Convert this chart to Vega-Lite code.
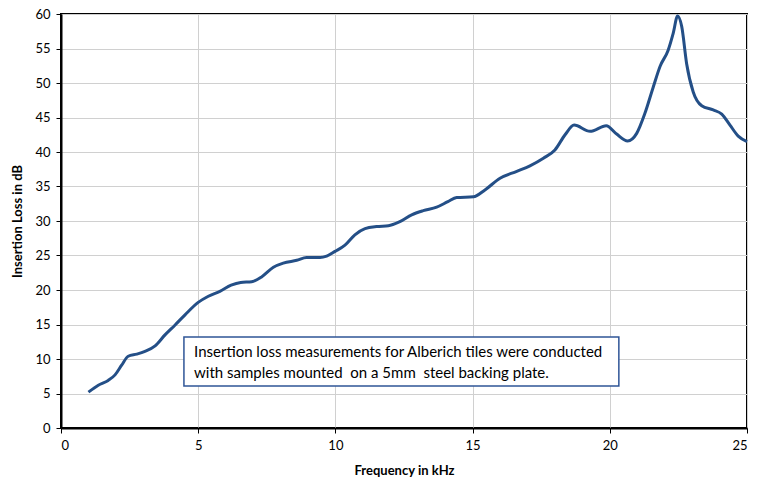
{
  "$schema": "https://vega.github.io/schema/vega-lite/v6.json",
  "width": 686,
  "height": 414,
  "autosize": {"type": "none"},
  "padding": {"left": 61, "top": 14, "right": 15, "bottom": 53},
  "background": "white",
  "config": {
    "view": {"stroke": "black", "strokeWidth": 2},
    "font": "Lato",
    "axis": {
      "gridColor": "#d0d0d0",
      "gridWidth": 1,
      "domainColor": "black",
      "domainWidth": 2,
      "tickColor": "black",
      "tickWidth": 1,
      "tickSize": 5,
      "labelOverlap": false,
      "labelFont": "Lato",
      "labelFontSize": 13,
      "labelColor": "#000000",
      "titleFont": "Lato",
      "titleFontSize": 13,
      "titleFontWeight": "bold",
      "titleColor": "#000000"
    }
  },
  "datasets": {
    "curve": [
      {"f": 1.0, "v": 5.2}, {"f": 1.36, "v": 6.2}, {"f": 1.72, "v": 6.9}, {"f": 1.97, "v": 7.7},
      {"f": 2.21, "v": 9.1}, {"f": 2.45, "v": 10.4}, {"f": 2.76, "v": 10.7}, {"f": 3.06, "v": 11.1},
      {"f": 3.43, "v": 11.9}, {"f": 3.79, "v": 13.5}, {"f": 4.15, "v": 14.9}, {"f": 4.52, "v": 16.4},
      {"f": 5.0, "v": 18.2}, {"f": 5.37, "v": 19.1}, {"f": 5.79, "v": 19.8}, {"f": 6.2, "v": 20.7},
      {"f": 6.55, "v": 21.1}, {"f": 6.95, "v": 21.2}, {"f": 7.31, "v": 21.9}, {"f": 7.74, "v": 23.3},
      {"f": 8.1, "v": 23.9}, {"f": 8.59, "v": 24.3}, {"f": 8.95, "v": 24.7}, {"f": 9.44, "v": 24.7},
      {"f": 9.68, "v": 24.9}, {"f": 9.99, "v": 25.6}, {"f": 10.35, "v": 26.5}, {"f": 10.71, "v": 28.0},
      {"f": 11.08, "v": 28.9}, {"f": 11.5, "v": 29.2}, {"f": 11.93, "v": 29.3}, {"f": 12.35, "v": 29.9},
      {"f": 12.78, "v": 30.9}, {"f": 13.2, "v": 31.5}, {"f": 13.69, "v": 32.0}, {"f": 14.1, "v": 32.8},
      {"f": 14.42, "v": 33.4}, {"f": 15.03, "v": 33.5}, {"f": 15.45, "v": 34.5}, {"f": 16.0, "v": 36.2},
      {"f": 16.61, "v": 37.2}, {"f": 17.09, "v": 38.0}, {"f": 17.58, "v": 39.1}, {"f": 18.0, "v": 40.3},
      {"f": 18.37, "v": 42.5}, {"f": 18.7, "v": 43.9}, {"f": 19.28, "v": 43.0}, {"f": 19.87, "v": 43.8},
      {"f": 20.25, "v": 42.6}, {"f": 20.65, "v": 41.6}, {"f": 20.98, "v": 42.7}, {"f": 21.28, "v": 45.6},
      {"f": 21.59, "v": 49.5}, {"f": 21.83, "v": 52.4}, {"f": 22.13, "v": 54.8}, {"f": 22.31, "v": 57.2},
      {"f": 22.47, "v": 59.7}, {"f": 22.62, "v": 58.2}, {"f": 22.8, "v": 52.8}, {"f": 23.04, "v": 48.7},
      {"f": 23.35, "v": 46.7}, {"f": 23.77, "v": 46.1}, {"f": 24.08, "v": 45.5}, {"f": 24.38, "v": 43.9},
      {"f": 24.68, "v": 42.3}, {"f": 25.0, "v": 41.5}
    ],
    "box": [{"x1": 4.48, "x2": 20.33, "y1": 6.1, "y2": 13.2}],
    "note": [
      {"x": 4.85, "y": 11.0, "t": "Insertion loss measurements for Alberich tiles were conducted"},
      {"x": 4.85, "y": 7.95, "t": "with samples mounted\u00a0 on a 5mm\u00a0 steel backing plate."}
    ]
  },
  "layer": [
    {
      "data": {"name": "curve"},
      "mark": {"type": "line", "color": "#244f87", "strokeWidth": 3, "interpolate": "monotone"},
      "encoding": {
        "x": {"field": "f", "type": "quantitative", "scale": {"domain": [0, 25], "nice": false},
          "axis": {"values": [0, 5, 10, 15, 20, 25], "title": "Frequency in kHz", "labelPadding": 6, "titlePadding": 12}},
        "y": {"field": "v", "type": "quantitative", "scale": {"domain": [0, 60], "nice": false},
          "axis": {"values": [0, 5, 10, 15, 20, 25, 30, 35, 40, 45, 50, 55, 60], "title": "Insertion Loss in dB", "labelPadding": 6, "titlePadding": 10}}
      }
    },
    {
      "data": {"name": "box"},
      "mark": {"type": "rect", "fill": "white", "stroke": "#2f5597", "strokeWidth": 1.5},
      "encoding": {
        "x": {"field": "x1", "type": "quantitative", "scale": {"domain": [0, 25], "nice": false},
          "axis": {"values": [0, 5, 10, 15, 20, 25], "title": "Frequency in kHz", "labelPadding": 6, "titlePadding": 12}},
        "x2": {"field": "x2"},
        "y": {"field": "y1", "type": "quantitative", "scale": {"domain": [0, 60], "nice": false},
          "axis": {"values": [0, 5, 10, 15, 20, 25, 30, 35, 40, 45, 50, 55, 60], "title": "Insertion Loss in dB", "labelPadding": 6, "titlePadding": 10}},
        "y2": {"field": "y2"}
      }
    },
    {
      "data": {"name": "note"},
      "mark": {"type": "text", "align": "left", "baseline": "middle", "font": "Lato", "fontSize": 15, "color": "#000000"},
      "encoding": {
        "x": {"field": "x", "type": "quantitative", "scale": {"domain": [0, 25], "nice": false},
          "axis": {"values": [0, 5, 10, 15, 20, 25], "title": "Frequency in kHz", "labelPadding": 6, "titlePadding": 12}},
        "y": {"field": "y", "type": "quantitative", "scale": {"domain": [0, 60], "nice": false},
          "axis": {"values": [0, 5, 10, 15, 20, 25, 30, 35, 40, 45, 50, 55, 60], "title": "Insertion Loss in dB", "labelPadding": 6, "titlePadding": 10}},
        "text": {"field": "t"}
      }
    }
  ]
}
